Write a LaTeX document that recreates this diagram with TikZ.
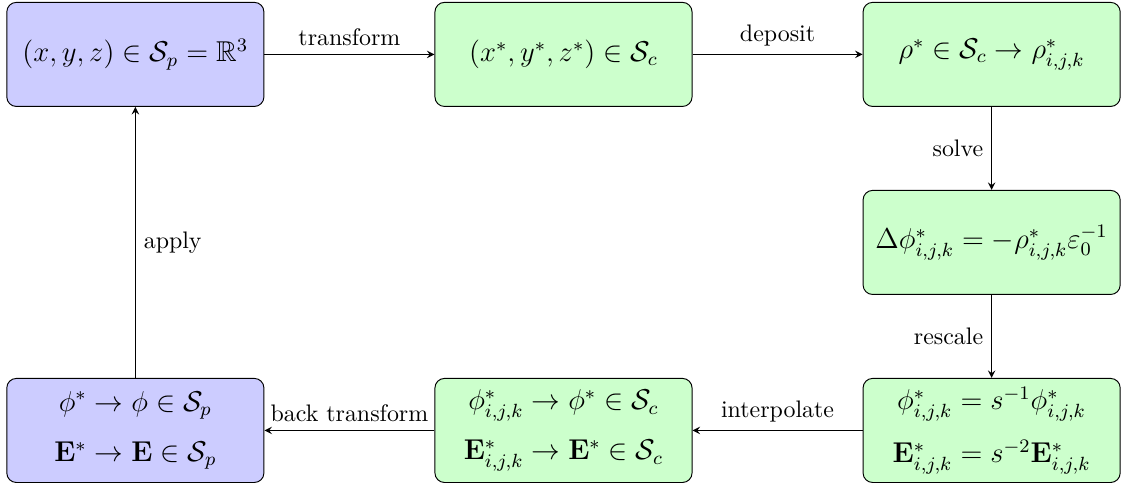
\documentclass[tikz,border=0pt]{standalone}
\usepackage{amsmath,amssymb}
\usepackage{tikz}
\usetikzlibrary{positioning}

\tikzset{
	box/.style={draw, rounded corners, minimum width=3.78cm, minimum height=1.53cm, align=center, font=\large},
	phys/.style={box, fill=blue!20},
	comp/.style={box, fill=green!20},
}

\begin{document}
\begin{tikzpicture}[>=stealth, node distance=1.22cm and 2.5cm]
	\useasboundingbox (-1.99,0.8) rectangle (14.49,-6.39);
	% top row
	\node [phys] (pos) at (0,0) {$(x,y,z) \in \mathcal{S}_p = \mathbb{R}^3$};
	\node [comp, right=of pos] (cpos) {$(x^*,y^*,z^*) \in \mathcal{S}_c$};
	\node [comp, right=of cpos] (rho) {$\rho^* \in \mathcal{S}_c \to \rho^*_{i,j,k}$};
	% right column
	\node [comp, below=of rho] (poisson) {$\Delta\phi^*_{i,j,k} = -\rho^*_{i,j,k}\varepsilon_0^{-1}$};
	\node [comp, below=of poisson] (scaled) {$\phi^*_{i,j,k} = s^{-1}\phi^*_{i,j,k}$\\[7pt] $\mathbf{E}^*_{i,j,k} = s^{-2}\mathbf{E}^*_{i,j,k}$};
	% bottom row
	\node [comp, left=of scaled] (field) {$\phi^*_{i,j,k} \to \phi^* \in \mathcal{S}_c$\\[7pt] $\mathbf{E}^*_{i,j,k} \to \mathbf{E}^* \in \mathcal{S}_c$};
	\node [phys, left=of field] (back) {$\phi^* \to \phi \in \mathcal{S}_p$\\[7pt] $\mathbf{E}^* \to \mathbf{E} \in \mathcal{S}_p$};
	% arrows
	\draw [->] (pos) -- (cpos) node [midway, above] {transform};
	\draw [->] (cpos) -- (rho) node [midway, above] {deposit};
	\draw [->] (rho) -- (poisson) node [midway, left] {solve};
	\draw [->] (poisson) -- (scaled) node [midway, left] {rescale};
	\draw [->] (scaled) -- (field) node [midway, above] {interpolate};
	\draw [->] (field) -- (back) node [midway, above] {back transform};
	\draw [->] (back) -- (pos) node [midway, right] {apply};
\end{tikzpicture}
\end{document}
